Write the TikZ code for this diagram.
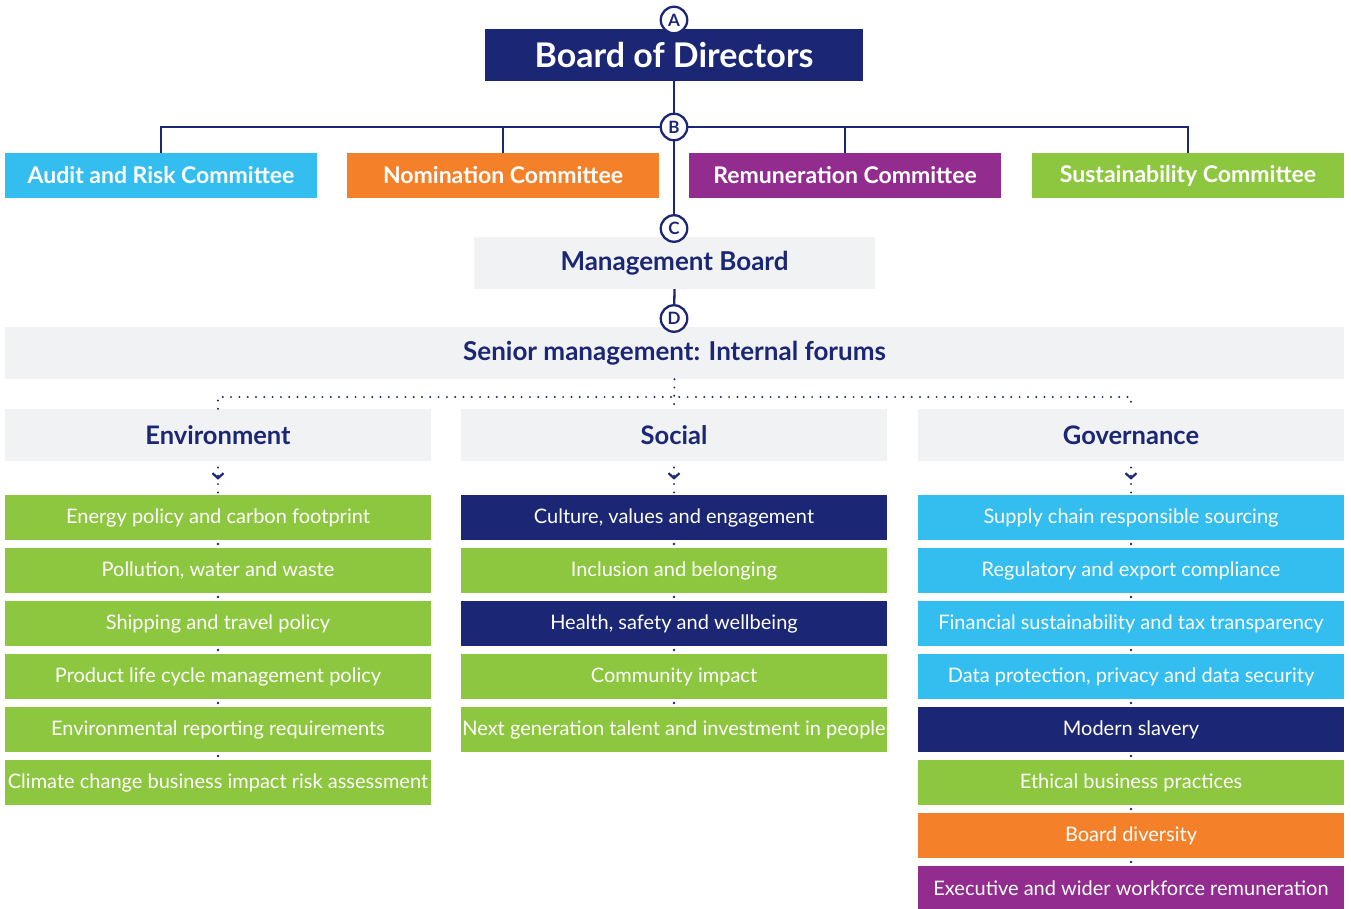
\documentclass[tikz,border=0pt]{standalone}
\usepackage{fontspec}
\setmainfont{Lato}
\usetikzlibrary{arrows.meta,decorations.markings}
\definecolor{navy}{RGB}{27,38,116}
\definecolor{cyanb}{RGB}{51,190,239}
\definecolor{orangeb}{RGB}{244,129,42}
\definecolor{purpleb}{RGB}{146,44,142}
\definecolor{greenb}{RGB}{141,198,63}
\definecolor{grayb}{RGB}{241,242,244}
\begin{document}
\begin{tikzpicture}[x=1pt,y=-1pt,
  box/.style={rectangle, inner sep=0pt, minimum height=45pt, minimum width=#1},
  bod/.style={box=378pt, minimum height=52pt, fill=navy, text=white, font=\fontsize{34}{34}\selectfont\bfseries},
  comm/.style={box=312pt, fill=#1, text=white, font=\fontsize{23}{23}\selectfont\bfseries},
  graybox/.style={box=#1, minimum height=52pt, fill=grayb, text=navy, font=\fontsize{26}{26}\selectfont\bfseries},
  item/.style={box=426pt, fill=#1, text=white, font=\fontsize{20}{20}\selectfont},
  letter/.style={circle, draw=navy, line width=2.3pt, fill=white, minimum size=26.5pt, inner sep=0pt, text=navy, font=\fontsize{17}{17}\selectfont\bfseries},
  conn/.style={draw=navy, line width=2.3pt},
  dotline/.style={draw=navy, line width=2.2pt, line cap=round, dash pattern=on 0pt off 8.3pt},
  dotmark/.style={circle, fill=navy, inner sep=0pt, minimum size=2.6pt},
  chev/.style={dotline, dash phase=2pt, postaction={decorate},
    decoration={markings, mark=at position 0.55 with {\arrow[navy]{Straight Barb[length=5pt,width=11pt,line width=2.2pt]}}}}
]
\useasboundingbox (0,0) rectangle (1351,908);
\begin{scope}
\clip (0,0) rectangle (1351,908);
% boxes
\node[bod] (board) at (674,55) {Board of Directors};
\node[comm=cyanb] (audit) at (161,175.5) {Audit and Risk Committee};
\node[comm=orangeb] (nom) at (503,175.5) {Nomination Committee};
\node[comm=purpleb] (rem) at (845,175.5) {Remuneration Committee};
\node[comm=greenb] (sus) at (1188,175.5) {Sustainability Committee};
\node[graybox=401pt] (mb) at (674.5,263) {Management Board};
\node[graybox=1339pt] (sen) at (674.5,353) {Senior management: Internal forums};
\node[graybox=426pt, font=\fontsize{25.5}{25.5}\selectfont\bfseries] (env) at (218,435) {Environment};
\node[graybox=426pt, font=\fontsize{25.5}{25.5}\selectfont\bfseries] (soc) at (674,435) {Social};
\node[graybox=426pt, font=\fontsize{25.5}{25.5}\selectfont\bfseries] (gov) at (1131,435) {Governance};

% letter marker positions
\coordinate (A) at (674,20);
\coordinate (B) at (674,127);
\coordinate (C) at (674,228.5);
\coordinate (D) at (674,318.5);

% solid connectors
\draw[conn] (board.south) -- (B);
\draw[conn] (B) -- (C);
\draw[conn] (mb.south) -- (D);
\draw[conn] (B) -| (audit.north);
\draw[conn] (B) -| (nom.north);
\draw[conn] (B) -| (rem.north);
\draw[conn] (B) -| (sus.north);
% markers on top
\node[letter] (lA) at (A) {A};
\node[letter] (lB) at (B) {B};
\node[letter] (lC) at (C) {C};
\node[letter] (lD) at (D) {D};

% dotted connectors
\coordinate (j) at (674,397);
\draw[dotline] (sen.south) -- (soc.north);
\draw[dotline] (env.north) -- (env.north |- j) -- (gov.north |- j) -- (gov.north);

% items
\foreach \t/\c [count=\i] in {
  {Energy policy and carbon footprint}/greenb,
  {Pollution, water and waste}/greenb,
  {Shipping and travel policy}/greenb,
  {Product life cycle management policy}/greenb,
  {Environmental reporting requirements}/greenb,
  {Climate change business impact risk assessment}/greenb}
  \node[item=\c] (e\i) at (218,{517.5+53*(\i-1)}) {\t};
\foreach \t/\c [count=\i] in {
  {Culture, values and engagement}/navy,
  {Inclusion and belonging}/greenb,
  {Health, safety and wellbeing}/navy,
  {Community impact}/greenb,
  {Next generation talent and investment in people}/greenb}
  \node[item=\c] (s\i) at (674,{517.5+53*(\i-1)}) {\t};
\foreach \t/\c [count=\i] in {
  {Supply chain responsible sourcing}/cyanb,
  {Regulatory and export compliance}/cyanb,
  {Financial sustainability and tax transparency}/cyanb,
  {Data protection, privacy and data security}/cyanb,
  {Modern slavery}/navy,
  {Ethical business practices}/greenb,
  {Board diversity}/orangeb,
  {Executive and wider workforce remuneration}/purpleb}
  \node[item=\c] (g\i) at (1131,{517.5+53*(\i-1)}) {\t};

% chevrons
\draw[chev] (env.south) -- (e1.north);
\draw[chev] (soc.south) -- (s1.north);
\draw[chev] (gov.south) -- (g1.north);

% dots between items
\foreach \i in {1,...,5}{
  \pgfmathtruncatemacro\j{\i+1}
  \path (e\i.south) -- node[dotmark]{} (e\j.north);}
\foreach \i in {1,...,4}{
  \pgfmathtruncatemacro\j{\i+1}
  \path (s\i.south) -- node[dotmark]{} (s\j.north);}
\foreach \i in {1,...,7}{
  \pgfmathtruncatemacro\j{\i+1}
  \path (g\i.south) -- node[dotmark]{} (g\j.north);}
\end{scope}
\end{tikzpicture}
\end{document}
